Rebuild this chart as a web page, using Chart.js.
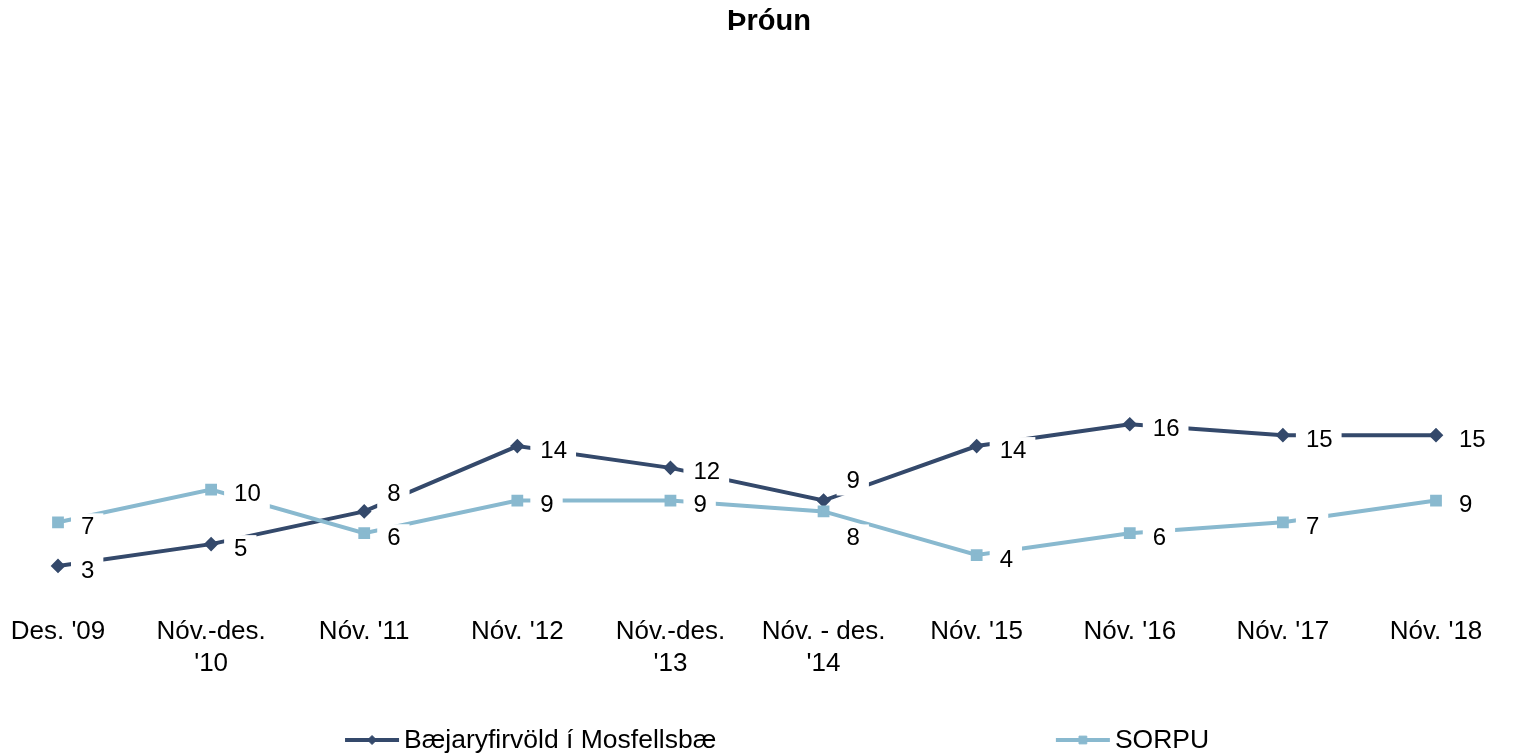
<!DOCTYPE html>
<html>
<head>
<meta charset="utf-8">
<script src="https://cdn.jsdelivr.net/npm/chart.js@4.4.1/dist/chart.umd.min.js"></script>
<style>
  html, body { margin: 0; padding: 0; background: #fff; }
  #wrap { width: 1516px; height: 754px; }
</style>
</head>
<body>
<div id="wrap"><canvas id="lineChart"></canvas></div>
<script>
const categories = [
    "Des. '09", ["Nóv.-des.", "'10"], "Nóv. '11", "Nóv. '12", ["Nóv.-des.", "'13"],
    ["Nóv. - des.", "'14"], "Nóv. '15", "Nóv. '16", "Nóv. '17", "Nóv. '18"
];
const seriesNames = ['Bæjaryfirvöld í Mosfellsbæ', 'SORPU'];
const mosfellsbaer = [3, 5, 8, 14, 12, 9, 14, 16, 15, 15];
const sorpu = [7, 10, 6, 9, 9, 8, 4, 6, 7, 9];
const yMin = 0;
const yMax = 50;

const FONT = '"Liberation Sans", Arial, sans-serif';
const DARK = '#34496b';
const LIGHT = '#89b9cf';

// small vertical nudges for labels that would collide (like the hand-moved ones in the original)
const labelNudge = [
    {2: -22, 5: -24},
    {5: 22}
];

const valueLabels = {
    id: 'valueLabels',
    afterDatasetsDraw(chart) {
        const ctx = chart.ctx;
        ctx.save();
        ctx.font = '24px ' + FONT;
        ctx.textAlign = 'left';
        ctx.textBaseline = 'middle';
        chart.data.datasets.forEach((ds, i) => {
            const meta = chart.getDatasetMeta(i);
            meta.data.forEach((pt, j) => {
                const txt = String(ds.data[j]);
                const w = ctx.measureText(txt).width;
                const x = pt.x + 23;
                const y = pt.y + 5 + (labelNudge[i][j] || 0);
                ctx.fillStyle = '#fff';
                ctx.fillRect(x - 10, y - 14, w + 19, 28);
                ctx.fillStyle = '#000';
                ctx.fillText(txt, x, y);
            });
        });
        ctx.restore();
    }
};

// legend drawn by hand because the items sit far apart
const wideLegend = {
    id: 'wideLegend',
    afterDraw(chart) {
        const ctx = chart.ctx;
        const y = chart.height - 14;
        const starts = [chart.width * 0.2276, chart.width * 0.6965];
        ctx.save();
        ctx.font = '26.5px ' + FONT;
        ctx.textBaseline = 'middle';
        chart.data.datasets.forEach((ds, i) => {
            const x = starts[i];
            ctx.strokeStyle = ds.borderColor;
            ctx.fillStyle = ds.borderColor;
            ctx.lineWidth = ds.borderWidth;
            ctx.beginPath();
            ctx.moveTo(x, y);
            ctx.lineTo(x + 54, y);
            ctx.stroke();
            ctx.lineWidth = 1;
            Chart.helpers.drawPoint(ctx, {pointStyle: ds.pointStyle, radius: ds.pointRadius, rotation: 0, borderWidth: 1}, x + 27, y);
            ctx.fillStyle = '#000';
            ctx.fillText(ds.label, x + 59, y + 1);
        });
        ctx.restore();
    }
};

new Chart(document.getElementById('lineChart').getContext('2d'), {
    type: 'line',
    data: {
        labels: categories,
        datasets: [{
            label: seriesNames[0],
            data: mosfellsbaer,
            borderColor: DARK,
            backgroundColor: DARK,
            pointStyle: 'rectRot',
            pointRadius: 4.5,
            borderWidth: 4,
            tension: 0,
            order: 1
        }, {
            label: seriesNames[1],
            data: sorpu,
            borderColor: LIGHT,
            backgroundColor: LIGHT,
            pointStyle: 'rect',
            pointRadius: 5.5,
            borderWidth: 4,
            tension: 0,
            order: 0
        }]
    },
    options: {
        responsive: true,
        maintainAspectRatio: false,
        animation: false,
        layout: { padding: { left: 22, right: 0, top: 0, bottom: 57 } },
        plugins: {
            legend: { display: false },
            tooltip: { enabled: false },
            title: {
                display: true,
                text: 'Þróun',
                color: '#000',
                font: { family: FONT, size: 29, weight: 'bold', lineHeight: 1.2 },
                padding: { top: 5, bottom: 14 }
            }
        },
        scales: {
            x: {
                offset: false,
                grid: { display: false, drawTicks: false },
                border: { display: false },
                ticks: {
                    color: '#000',
                    font: { family: FONT, size: 26, lineHeight: 1.2 },
                    padding: 18,
                    maxRotation: 0,
                    autoSkip: false
                },
                // the end labels may hang past the plot edges, as in the original
                afterFit(scale) { scale.paddingLeft = 20; scale.paddingRight = 20; }
            },
            y: {
                min: yMin,
                max: yMax,
                grid: { display: false },
                border: { display: false },
                ticks: { display: false },
                afterFit(scale) { scale.width = 36; }
            },
            y2: {
                position: 'right',
                grid: { display: false },
                border: { display: false },
                ticks: { display: false },
                afterFit(scale) { scale.width = 80; }
            }
        }
    },
    plugins: [valueLabels, wideLegend]
});
</script>
</body>
</html>
